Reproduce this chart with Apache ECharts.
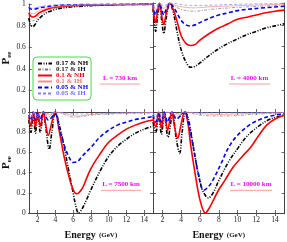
<!DOCTYPE html>
<html><head><meta charset="utf-8">
<script src="https://cdn.jsdelivr.net/npm/echarts@6/dist/echarts.min.js"></script>
<style>html,body{margin:0;padding:0;background:#fff}#c{width:287px;height:242px}</style>
</head><body><div id="c"></div>
<script>
// ---- tick labels / names ----
const xTicks = [2, 4, 6, 8, 10, 12, 14];
const yTicksTop = [0, 0.2, 0.4, 0.6, 0.8, 1];
const yTicksBottom = [0, 0.2, 0.4, 0.6, 0.8];
const seriesNames = ['0.17 & NH', '0.17 & IH', '0.1 & NH', '0.1 & IH', '0.05 & NH', '0.05 & IH'];
const baselines = ['L = 730 km', 'L = 4000 km', 'L = 7500 km', 'L = 10000 km'];

// ---- data: [Energy (GeV), Pee] ----
// L = 730 km
const tl_bk = [[1,0.87],[1.2,0.81],[1.45,0.79],[1.7,0.81],[2,0.85],[2.5,0.89],[3,0.92],[3.5,0.935],[4,0.95],[5,0.965],[6,0.975],[7,0.98],[8,0.985],[10,0.99],[12,0.995],[15,0.997]];
const tl_gy = [[1,0.9],[1.2,0.86],[1.5,0.845],[1.8,0.86],[2.2,0.9],[3,0.94],[4,0.96],[6,0.98],[8,0.99],[15,0.998]];
const tl_rd = [[1,0.92],[1.2,0.89],[1.5,0.88],[1.8,0.89],[2.2,0.92],[3,0.95],[4,0.97],[6,0.985],[8,0.99],[15,0.998]];
const tl_pk = [[1,0.94],[1.2,0.915],[1.5,0.91],[1.8,0.92],[2.2,0.94],[3,0.965],[4,0.975],[6,0.99],[15,0.999]];
const tl_bl = [[1,0.97],[1.2,0.955],[1.5,0.95],[1.8,0.955],[2.2,0.965],[3,0.975],[4,0.985],[6,0.993],[15,0.999]];
const tl_lb = [[1,0.975],[1.5,0.96],[2,0.97],[3,0.985],[4,0.99],[15,1.0]];
// L = 4000 km
const tr_bk = [[1,0.95],[1.15,0.8],[1.28,0.74],[1.45,0.85],[1.7,0.99],[1.95,0.82],[2.15,0.72],[2.4,0.86],[2.8,1.0],[3.2,0.9],[3.6,0.72],[4,0.57],[4.5,0.46],[5,0.41],[5.5,0.42],[6,0.45],[7,0.52],[8,0.58],[9,0.63],[10,0.67],[11,0.71],[12,0.74],[13,0.77],[14,0.79],[15,0.81]];
const tr_gy = [[1,0.97],[1.3,0.9],[1.7,1.0],[2.15,0.92],[2.8,1.0],[3.5,0.96],[4.5,0.93],[5.5,0.925],[7,0.94],[10,0.96],[15,0.98]];
const tr_rd = [[1,0.97],[1.15,0.86],[1.28,0.82],[1.45,0.9],[1.7,1.0],[1.95,0.87],[2.15,0.8],[2.4,0.9],[2.8,1.0],[3.2,0.93],[3.6,0.82],[4,0.7],[4.5,0.63],[5,0.61],[5.5,0.62],[6,0.66],[7,0.72],[8,0.77],[9,0.81],[10,0.85],[11,0.87],[12,0.89],[13,0.91],[14,0.925],[15,0.935]];
const tr_pk = [[1,0.98],[1.3,0.94],[1.7,1.0],[2.15,0.95],[2.8,1.0],[3.5,0.975],[4.5,0.96],[5.5,0.955],[7,0.965],[10,0.975],[15,0.99]];
const tr_bl = [[1,0.99],[1.15,0.92],[1.28,0.89],[1.45,0.94],[1.7,1.0],[1.95,0.93],[2.15,0.89],[2.4,0.94],[2.8,1.0],[3.2,0.96],[3.6,0.9],[4,0.84],[4.5,0.8],[5,0.79],[5.5,0.8],[6,0.82],[7,0.86],[8,0.89],[9,0.91],[10,0.93],[12,0.95],[15,0.97]];
const tr_lb = [[1,0.99],[1.3,0.97],[1.7,1.0],[2.15,0.975],[2.8,1.0],[4.5,0.98],[6,0.978],[10,0.988],[15,0.995]];
// L = 7500 km
const bl_bk = [[1,0.92],[1.25,0.8],[1.5,0.98],[1.75,0.79],[2.0,0.98],[2.3,0.8],[2.65,1.0],[2.95,0.82],[3.3,0.63],[3.6,0.8],[4.0,1.0],[4.5,0.85],[5,0.65],[5.5,0.42],[6,0.2],[6.3,0.07],[6.6,0.0],[7,0.04],[7.5,0.13],[8,0.23],[9,0.41],[10,0.56],[11,0.66],[12,0.73],[13,0.79],[14,0.83],[15,0.86]];
const bl_gy = [[1,0.97],[1.3,0.92],[1.6,1.0],[2,0.93],[2.5,1.0],[3.2,0.95],[4,1.0],[5,0.975],[6,0.95],[7,0.955],[8,0.97],[10,0.98],[15,0.99]];
const bl_rd = [[1,0.95],[1.25,0.86],[1.5,1.0],[1.75,0.85],[2.0,1.0],[2.3,0.86],[2.65,1.0],[2.9,0.88],[3.2,0.77],[3.55,0.88],[3.95,1.0],[4.5,0.78],[5,0.55],[5.5,0.37],[6,0.23],[6.4,0.19],[7,0.24],[7.5,0.34],[8,0.44],[9,0.58],[10,0.7],[11,0.77],[12,0.83],[13,0.87],[14,0.9],[15,0.92]];
const bl_pk = [[1,0.98],[1.3,0.95],[1.6,1.0],[2,0.955],[2.5,1.0],[3.2,0.97],[4,1.0],[5,0.985],[6.5,0.96],[8,0.975],[10,0.985],[15,0.995]];
const bl_bl = [[1,0.97],[1.25,0.92],[1.5,1.0],[1.75,0.92],[2.0,1.0],[2.3,0.93],[2.65,1.0],[3.2,0.92],[3.95,0.98],[4.5,0.82],[5,0.67],[5.5,0.56],[6,0.5],[6.5,0.51],[7,0.56],[8,0.65],[9,0.75],[10,0.82],[11,0.87],[12,0.9],[13,0.925],[14,0.94],[15,0.955]];
const bl_lb = [[1,0.99],[1.3,0.975],[1.6,1.0],[2,0.975],[2.5,1.0],[3.2,0.985],[4,1.0],[6.5,0.98],[10,0.99],[15,0.998]];
// L = 10000 km
const br_bk = [[1,0.9],[1.3,0.8],[1.6,0.97],[1.9,0.78],[2.2,0.98],[2.6,0.75],[3.1,0.99],[3.45,0.75],[3.84,0.59],[4.1,0.8],[4.45,1.0],[4.8,0.92],[5.3,0.65],[5.8,0.4],[6.3,0.22],[6.9,0.15],[7.4,0.2],[8,0.32],[9,0.5],[10.1,0.65],[11,0.76],[12.4,0.87],[13.5,0.93],[15,0.97]];
const br_gy = [[1,0.97],[1.3,0.93],[1.6,1.0],[2,0.94],[2.5,1.0],[3.6,0.95],[4.3,1.0],[6,0.97],[8,0.96],[10,0.965],[12,0.98],[15,0.99]];
const br_rd = [[1,0.95],[1.3,0.85],[1.6,1.0],[1.9,0.84],[2.2,1.0],[2.55,0.82],[3.0,1.0],[3.3,0.85],[3.63,0.74],[3.95,0.86],[4.35,1.0],[4.7,0.9],[5,0.68],[5.5,0.38],[6,0.13],[6.57,0.0],[7,0.05],[7.5,0.14],[8,0.23],[8.7,0.33],[9.5,0.45],[10.5,0.56],[11.4,0.65],[12.2,0.76],[13.1,0.87],[14,0.93],[15,0.97]];
const br_pk = [[1,0.98],[1.3,0.955],[1.6,1.0],[2,0.96],[2.5,1.0],[3.6,0.97],[4.3,1.0],[6,0.985],[8,0.975],[10,0.98],[15,0.995]];
const br_bl = [[1,0.97],[1.3,0.9],[1.6,1.0],[1.9,0.9],[2.2,1.0],[2.55,0.9],[3.0,1.0],[3.5,0.93],[4.0,0.97],[4.4,1.0],[4.8,0.88],[5.3,0.65],[5.8,0.4],[6.4,0.225],[6.9,0.26],[7.4,0.33],[8.2,0.48],[9.05,0.65],[10,0.77],[11.4,0.88],[12.5,0.93],[13.5,0.96],[15,0.985]];
const br_lb = [[1,0.99],[1.3,0.975],[1.6,1.0],[2,0.98],[2.5,1.0],[3.6,0.985],[4.3,1.0],[8,0.99],[15,0.998]];

const panelData = [
  [tl_bk, tl_gy, tl_rd, tl_pk, tl_bl, tl_lb],
  [tr_bk, tr_gy, tr_rd, tr_pk, tr_bl, tr_lb],
  [bl_bk, bl_gy, bl_rd, bl_pk, bl_bl, bl_lb],
  [br_bk, br_gy, br_rd, br_pk, br_bl, br_lb]
];

// ---- styles ----
const FONT = '"Liberation Serif", "DejaVu Serif", serif';
const lineStyles = [
  {color:'#000000', width:1.6, type:[4,1.5,1,1.5,1,1.5]},
  {color:'#777777', width:0.7, type:[3,1.5,1,1.5]},
  {color:'#ff0000', width:1.6, type:'solid'},
  {color:'#ff8a8a', width:0.7, type:'solid'},
  {color:'#0000ff', width:1.6, type:[4,2.5]},
  {color:'#8080ff', width:0.7, type:[3,2]}
];
const legendTextColors = ['#000000','#222222','#ff0000','#ff7070','#0000ff','#7070ff'];
const grids = [
  {left:25, top:3, width:128, height:109},
  {left:153, top:3, width:131.5, height:109},
  {left:25, top:112, width:128, height:102},
  {left:153, top:112, width:131.5, height:102}
];
const AX = '#444';

const xAxis = [], yAxis = [], series = [];
grids.forEach((g, i) => {
  const bottomRow = i >= 2, leftCol = (i % 2 === 0);
  const baseX = {gridIndex:i, type:'value', min:1, max:15,
    axisLine:{show:true, lineStyle:{color:AX, width:1}},
    axisTick:{show:true, inside:true, length:3, customValues:xTicks, lineStyle:{color:AX, width:0.8}},
    splitLine:{show:false}};
  xAxis.push(Object.assign({}, baseX, {position:'bottom',
    axisLabel:{show:bottomRow, customValues:xTicks, margin:3, fontSize:7.5, fontFamily:FONT, color:'#222'},
    name: bottomRow ? '{a|Energy} {b|(GeV)}' : '', nameLocation:'middle', nameGap:16,
    nameTextStyle:{rich:{a:{fontSize:10, fontWeight:'bold', fontFamily:FONT, color:'#111'}, b:{fontSize:7, fontWeight:'bold', fontFamily:FONT, color:'#111'}}}
  }));
  xAxis.push(Object.assign({}, baseX, {position:'top', axisLabel:{show:false}}));
  const yT = (i === 0) ? yTicksTop : yTicksBottom;
  const baseY = {gridIndex:i, type:'value', min:0, max:1, interval:0.2,
    axisLine:{show:true, lineStyle:{color:AX, width:1}},
    axisTick:{show:true, inside:true, length:3, lineStyle:{color:AX, width:0.8}},
    splitLine:{show:false}};
  yAxis.push(Object.assign({}, baseY, {position:'left',
    axisLabel:{show:leftCol, customValues:yT, margin:3, fontSize:7.5, fontFamily:FONT, color:'#222'},
    name: leftCol ? '{p|P}{s|ee}' : '', nameLocation:'middle', nameGap:11, nameRotate:90,
    nameTextStyle:{rich:{p:{fontSize:11, fontWeight:'bold', fontFamily:FONT, color:'#111'}, s:{fontSize:7, fontWeight:'bold', fontFamily:FONT, color:'#111', padding:[5,0,0,0]}}}
  }));
  yAxis.push(Object.assign({}, baseY, {position:'right', axisLabel:{show:false}}));
  panelData[i].forEach((d, k) => {
    series.push({type:'line', name:seriesNames[k], xAxisIndex:2*i, yAxisIndex:2*i,
      data:d, smooth:0.35, showSymbol:false, symbol:'none', clip:true,
      lineStyle:lineStyles[k], itemStyle:{color:lineStyles[k].color}, silent:true, animation:false,
      z: (k % 2 === 1) ? 3 : 2});
  });
});

const labelPos = [[120,77.7,100,140,84],[249.5,77.7,229,270,84],[121,184.3,101,141,190.3],[251,184.3,230,272,190.3]];
const graphic = [];
baselines.forEach((t, i) => {
  const p = labelPos[i];
  graphic.push({type:'text', x:p[0], y:p[1], z:100, style:{text:t, fill:'#ff00ff', font:'bold 7px ' + FONT, textAlign:'center', textVerticalAlign:'middle'}});
  graphic.push({type:'line', z:100, shape:{x1:p[2], y1:p[4], x2:p[3], y2:p[4]}, style:{stroke:'#ff8080', lineWidth:0.8}});
});

const chart = echarts.init(document.getElementById('c'), null, {renderer:'canvas'});
chart.setOption({
  animation:false,
  backgroundColor:'#fff',
  grid: grids,
  xAxis, yAxis, series, graphic,
  legend:{
    orient:'vertical', left:33, top:57,
    data: seriesNames.map((n, k) => ({name:n, textStyle:{color:legendTextColors[k]}})),
    itemWidth:14, itemHeight:5, itemGap:-1,
    padding:[3,3,3,4],
    itemStyle:{opacity:0, borderWidth:0},
    borderColor:'#44dd44', borderWidth:1, borderRadius:4, backgroundColor:'#fff',
    textStyle:{fontSize:7, fontWeight:'bold', fontFamily:FONT, lineHeight:5.6, padding:[0,0,0,-1]},
    selectedMode:false
  }
});
</script></body></html>
